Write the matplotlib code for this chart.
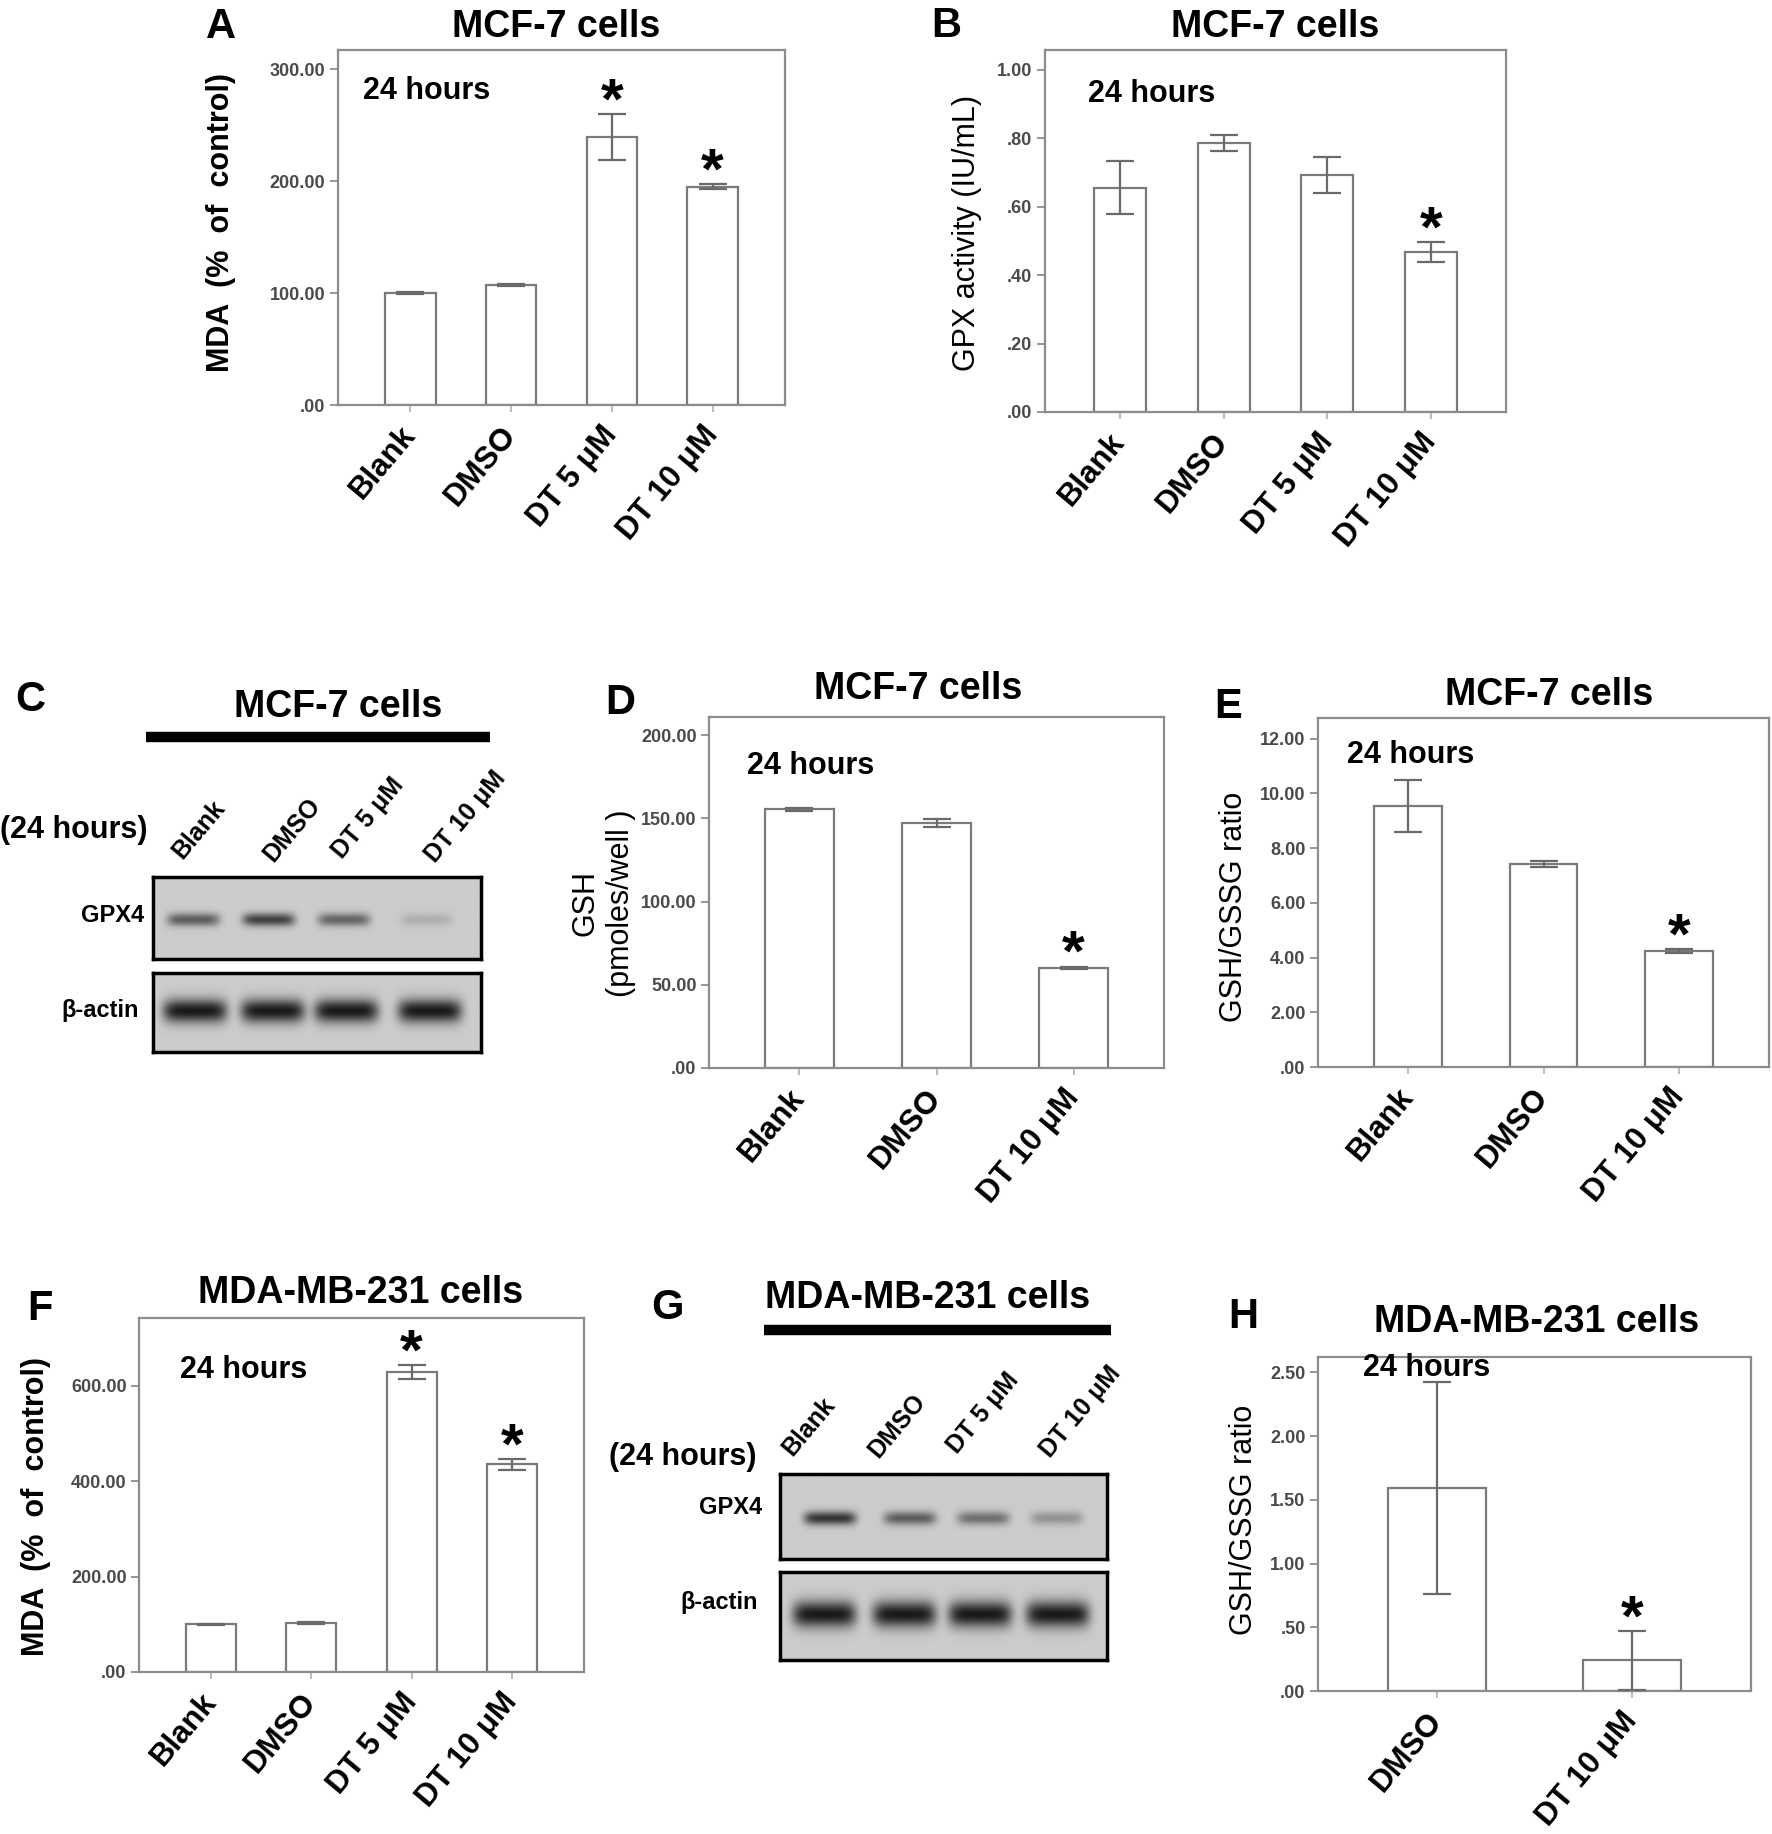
import numpy as np
import matplotlib
matplotlib.use("Agg")
import matplotlib.pyplot as plt
from matplotlib.ticker import FuncFormatter

plt.rcParams['font.family'] = ['Liberation Sans', 'DejaVu Sans']

# ---- data ----
groups4 = ["Blank", "DMSO", "DT 5 μM", "DT 10 μM"]
groups3 = ["Blank", "DMSO", "DT 10 μM"]
groups2 = ["DMSO", "DT 10 μM"]

mda_mcf7 = [100, 107, 239, 195]
mda_mcf7_err = [0.5, 1.0, 20.5, 2.0]
gpx_mcf7 = [0.656, 0.786, 0.693, 0.468]
gpx_mcf7_err = [0.077, 0.023, 0.052, 0.029]
gsh_mcf7 = [155.5, 147.2, 60.1]
gsh_mcf7_err = [0.8, 2.5, 0.8]
ratio_mcf7 = [9.54, 7.42, 4.24]
ratio_mcf7_err = [0.95, 0.12, 0.06]
mda_231 = [100, 103, 628, 435]
mda_231_err = [0.5, 1.5, 14.5, 11.5]
ratio_231 = [1.59, 0.24]
ratio_231_err = [0.83, 0.23]

# western blot band intensities (0 = none, 1 = saturated)
gpx4_band_mcf7 = [0.62, 0.78, 0.58, 0.16]
actin_band_mcf7 = [1.0, 1.0, 1.0, 1.0]
gpx4_band_231 = [0.85, 0.62, 0.52, 0.32]
actin_band_231 = [1.0, 1.0, 1.0, 1.0]

W, H = 1772, 1834
fig = plt.figure(figsize=(W / 100, H / 100), dpi=100)

ov = fig.add_axes([0, 0, 1, 1], zorder=10)
ov.set_xlim(0, W)
ov.set_ylim(H, 0)
ov.axis('off')


def px_axes(l, t, r, b):
    return fig.add_axes([l / W, 1 - b / H, (r - l) / W, (b - t) / H])


def spss_fmt(v, pos):
    s = f"{v:.2f}"
    return s[1:] if s.startswith("0") else s


SPINE = '#8c8c8c'


def bar_panel(box, labels, vals, errs, ylim, ystep, xpad, stars):
    ax = px_axes(*box)
    x = np.arange(len(vals))
    ax.bar(x, vals, width=0.5, color='white', edgecolor='#7a7a7a', linewidth=1.6, zorder=2)
    ax.errorbar(x, vals, yerr=errs, fmt='none', ecolor='#6a6a6a', elinewidth=1.6,
                capsize=10, capthick=1.6, zorder=3)
    ax.set_xlim(-xpad, len(vals) - 1 + xpad)
    ax.set_ylim(*ylim)
    ax.set_yticks(np.arange(0, ylim[1], ystep))
    ax.yaxis.set_major_formatter(FuncFormatter(spss_fmt))
    ax.set_xticks(x)
    ax.set_xticklabels(labels, rotation=50, ha='right', va='center', rotation_mode='anchor',
                       fontsize=22.5, fontweight='bold')
    ax.tick_params(axis='y', direction='out', length=6, width=1.3, color=SPINE, pad=3,
                   labelsize=13, labelcolor='#4a4a4a')
    ax.tick_params(axis='x', direction='out', length=5, width=1.2, color='#b0b0b0', pad=13)
    for lab in ax.get_yticklabels():
        lab.set_fontweight('bold')
    for sp in ax.spines.values():
        sp.set_color(SPINE)
        sp.set_linewidth(1.6)
    for i in stars:
        ax.annotate('*', (x[i], vals[i] + errs[i]), xytext=(0, -3), textcoords='offset points',
                    ha='center', va='baseline', fontsize=42, fontweight='bold', zorder=4)
    return ax


def ftext(x, y, s, size, bold=True, **kw):
    ov.text(x, y, s, fontsize=size, fontweight='bold' if bold else 'normal', **kw)


def letter(x, y, s):
    ftext(x, y, s, 30, ha='center', va='center')


def title(x, y, s):
    ftext(x, y, s, 27, ha='center', va='center')


def hours(x, y):
    ftext(x, y, "24 hours", 22, ha='left', va='center')


def ylab(x, y, s, bold=False):
    ftext(x, y, s, 22, bold=bold, ha='center', va='center', rotation=90, linespacing=1.25)


BG, DARK = 0.80, 0.10


def blot_box(l, t, r, b, lanes, vals, cy, sy, hw):
    ax = px_axes(l, t, r, b)
    xs = np.linspace(0, 4, 480)
    ys = np.linspace(0, 1, 140)
    X, Y = np.meshgrid(xs, ys)
    d = np.zeros_like(X)
    for c, v in zip(lanes, vals):
        d += v * np.exp(-((X - c) / hw) ** 6) * np.exp(-((Y - cy) / sy) ** 2)
    d = np.clip(d, 0, 1)
    img = BG * (1 - d) + DARK * d
    ax.imshow(img, cmap='gray', vmin=0, vmax=1, extent=(0, 4, 1, 0), aspect='auto',
              interpolation='bilinear')
    ax.set_xlim(0, 4)
    ax.set_ylim(1, 0)
    ax.set_xticks([])
    ax.set_yticks([])
    for sp in ax.spines.values():
        sp.set_color('black')
        sp.set_linewidth(2.5)


def blot_panel(bar_x, bar_y, hours_xy, lab_pts, box1, box2, lanes1, lanes2, gpx, act,
               gpx_lab, act_lab):
    ov.plot(bar_x, [bar_y, bar_y], color='black', lw=7.5, solid_capstyle='butt')
    ftext(hours_xy[0], hours_xy[1], "(24 hours)", 22, ha='left', va='center')
    for (lx, ly), s in zip(lab_pts, groups4):
        ftext(lx, ly, s, 18, ha='left', va='bottom', rotation=50, rotation_mode='anchor')
    blot_box(*box1, lanes1, gpx, 0.52, 0.08, 0.32)
    blot_box(*box2, lanes2, act, 0.48, 0.15, 0.39)
    ftext(gpx_lab[0], gpx_lab[1], "GPX4", 17, ha='right', va='center')
    ftext(act_lab[0], act_lab[1], "β-actin", 17, ha='right', va='center')


# ---- A ----
bar_panel((338, 50, 785, 405), groups4, mda_mcf7, mda_mcf7_err, (0, 317), 100, 0.72, [2, 3])
letter(221, 27, "A")
title(556, 27, "MCF-7 cells")
hours(363, 91)
ylab(221, 222, "MDA  (%  of  control)", bold=True)

# ---- B ----
bar_panel((1045, 50, 1506, 412), groups4, gpx_mcf7, gpx_mcf7_err, (0, 1.058), 0.2, 0.72, [3])
letter(946, 26, "B")
title(1275, 27, "MCF-7 cells")
hours(1088, 94)
ylab(967, 233, "GPX activity (IU/mL)")

# ---- C ----
letter(30, 700, "C")
title(338, 707, "MCF-7 cells")
blot_panel([146, 490], 737, (0, 830),
           [(186, 863), (277, 866), (346, 863), (439, 867)],
           (153, 877, 481, 959), (153, 973, 481, 1052),
           [0.49, 1.41, 2.33, 3.34], [0.51, 1.46, 2.36, 3.38],
           gpx4_band_mcf7, actin_band_mcf7, (144, 915), (139, 1010))

# ---- D ----
bar_panel((709, 717, 1164, 1068), groups3, gsh_mcf7, gsh_mcf7_err, (0, 211), 50, 0.66, [2])
letter(620, 703, "D")
title(918, 689, "MCF-7 cells")
hours(747, 766)
ylab(603, 903, "GSH\n(pmoles/well )")

# ---- E ----
bar_panel((1318, 718, 1769, 1067), groups3, ratio_mcf7, ratio_mcf7_err, (0, 12.75), 2, 0.667, [2])
letter(1228, 707, "E")
title(1549, 695, "MCF-7 cells")
hours(1347, 755)
ylab(1234, 907, "GSH/GSSG ratio")

# ---- F ----
bar_panel((139, 1318, 584, 1672), groups4, mda_231, mda_231_err, (0, 742), 200, 0.72, [2, 3])
letter(40, 1309, "F")
title(361, 1293, "MDA-MB-231 cells")
hours(180, 1370)
ylab(36, 1507, "MDA  (%  of  control)", bold=True)

# ---- G ----
letter(668, 1308, "G")
title(928, 1298, "MDA-MB-231 cells")
blot_panel([764, 1111], 1330, (609, 1457),
           [(796, 1460), (882, 1462), (961, 1458), (1054, 1462)],
           (780, 1474, 1107, 1559), (780, 1572, 1107, 1660),
           [0.61, 1.59, 2.49, 3.39], [0.54, 1.52, 2.45, 3.40],
           gpx4_band_231, actin_band_231, (762, 1508), (758, 1603))

# ---- H ----
bar_panel((1318, 1357, 1751, 1691), groups2, ratio_231, ratio_231_err, (0, 2.62), 0.5, 0.612, [1])
letter(1243, 1317, "H")
title(1537, 1322, "MDA-MB-231 cells")
hours(1363, 1368)
ylab(1244, 1520, "GSH/GSSG ratio")

fig.savefig("out.png", dpi=100, facecolor='white')
